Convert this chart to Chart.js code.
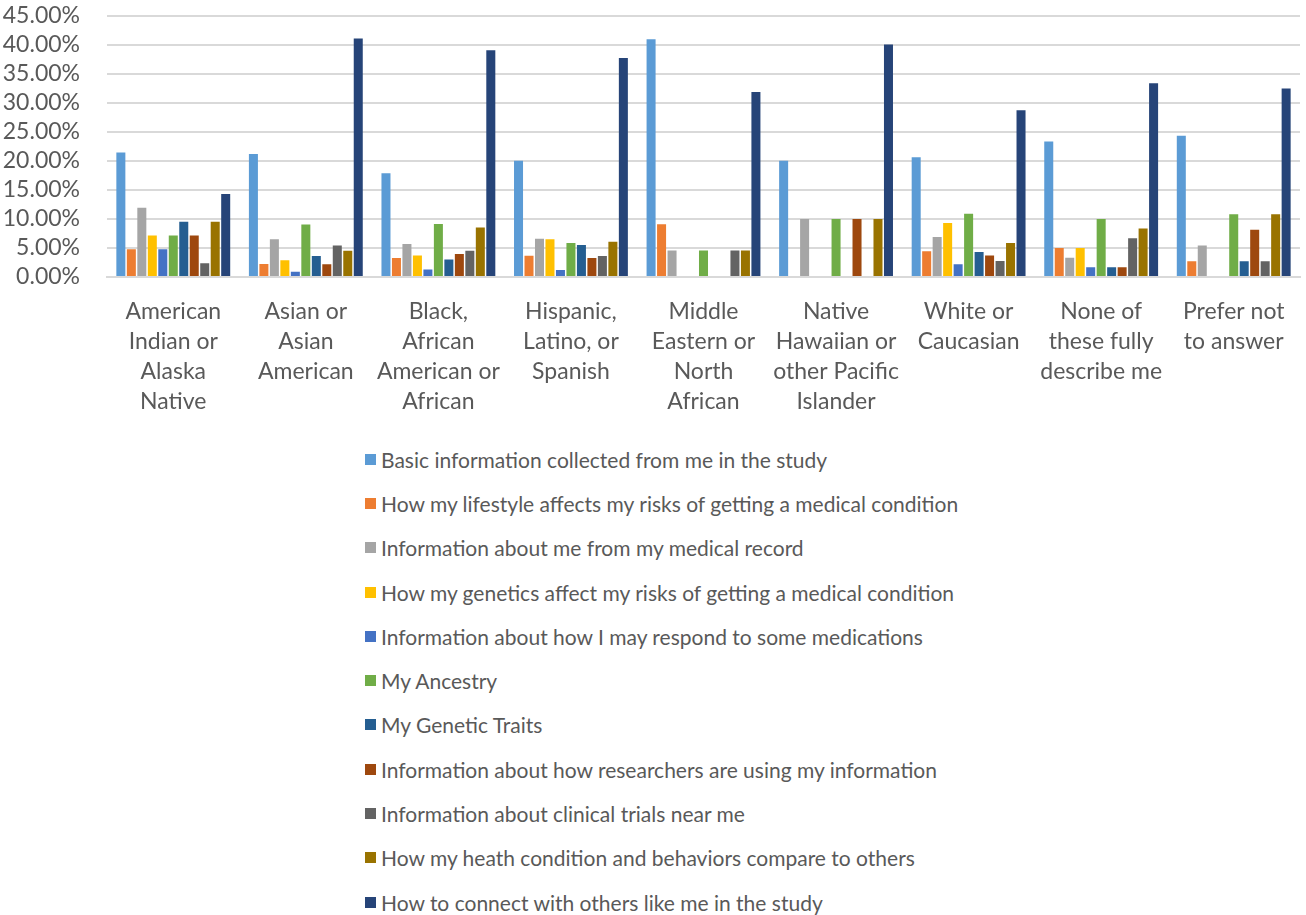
<!DOCTYPE html>
<html>
<head>
<meta charset="utf-8">
<title>Information of interest by race / ethnicity</title>
<script src="https://cdn.jsdelivr.net/npm/chart.js@4/dist/chart.umd.min.js"></script>
<style>
  html, body { margin: 0; padding: 0; background: #fff; overflow: hidden; }
  #wrap { position: relative; width: 1306px; height: 915px; overflow: hidden; }
  #chartBox { position: absolute; left: 0; top: -23px; width: 1306px; height: 453px; }
  #legend {
    position: absolute; left: 365px; top: 437px;
    margin: 0; padding: 0; list-style: none;
    font-family: Lato, "Open Sans", sans-serif; font-size: 21px; color: #595959;
  }
  #legend li { height: 44.3px; display: flex; align-items: center; }
  #legend .box { width: 11px; height: 11px; margin-right: 5px; flex: none; }
</style>
</head>
<body>
<div id="wrap">
  <div id="chartBox"><canvas id="infoBars"></canvas></div>
  <ul id="legend"></ul>
</div>
<script>
const categories = [
    ["American", "Indian or", "Alaska", "Native"],
    ["Asian or", "Asian", "American"],
    ["Black,", "African", "American or", "African"],
    ["Hispanic,", "Latino, or", "Spanish"],
    ["Middle", "Eastern or", "North", "African"],
    ["Native", "Hawaiian or", "other Pacific", "Islander"],
    ["White or", "Caucasian"],
    ["None of", "these fully", "describe me"],
    ["Prefer not", "to answer"],
];

const seriesNames = [
    "Basic information collected from me in the study",
    "How my lifestyle affects my risks of getting a medical condition",
    "Information about me from my medical record",
    "How my genetics affect my risks of getting a medical condition",
    "Information about how I may respond to some medications",
    "My Ancestry",
    "My Genetic Traits",
    "Information about how researchers are using my information",
    "Information about clinical trials near me",
    "How my heath condition and behaviors compare to others",
    "How to connect with others like me in the study",
];

// percent of respondents in each group
const basicInfo      = [21.43, 21.15, 17.86, 20.00, 40.91, 20.00, 20.59, 23.33, 24.32];
const lifestyleRisk  = [4.76, 2.25, 3.26, 3.64, 9.09, 0, 4.41, 5.00, 2.70];
const medicalRecord  = [11.90, 6.50, 5.67, 6.60, 4.55, 10.00, 6.90, 3.33, 5.41];
const geneticsRisk   = [7.14, 2.90, 3.72, 6.50, 0, 0, 9.30, 5.00, 0];
const medications    = [4.76, 0.90, 1.30, 1.20, 0, 0, 2.20, 1.67, 0];
const ancestry       = [7.14, 9.05, 9.10, 5.84, 4.55, 10.00, 10.90, 10.00, 10.81];
const geneticTraits  = [9.52, 3.60, 3.00, 5.50, 0, 0, 4.30, 1.67, 2.70];
const researchUse    = [7.14, 2.20, 3.95, 3.26, 0, 10.00, 3.70, 1.67, 8.11];
const clinicalTrials = [2.38, 5.40, 4.50, 3.60, 4.55, 0, 2.75, 6.67, 2.70];
const compareOthers  = [9.52, 4.50, 8.50, 6.07, 4.55, 10.00, 5.84, 8.33, 10.81];
const connectOthers  = [14.29, 41.05, 39.00, 37.70, 31.82, 40.00, 28.70, 33.33, 32.43];

const seriesValues = [basicInfo, lifestyleRisk, medicalRecord, geneticsRisk, medications,
    ancestry, geneticTraits, researchUse, clinicalTrials, compareOthers, connectOthers];

const seriesColors = ["#5B9BD5", "#ED7D31", "#A5A5A5", "#FFC000", "#4472C4", "#70AD47",
    "#255E91", "#9E480E", "#636363", "#997300", "#264478"];

const TEXT = "#595959";
const GRID = "#d9d9d9";

const chart = new Chart(document.getElementById("infoBars"), {
    type: "bar",
    data: {
        labels: categories,
        datasets: seriesNames.map((name, i) => ({
            label: name,
            data: seriesValues[i],
            backgroundColor: seriesColors[i],
            categoryPercentage: 0.87,
            barPercentage: 0.86,
        })),
    },
    options: {
        responsive: true,
        maintainAspectRatio: false,
        animation: false,
        layout: { padding: { top: 0, right: 6, left: 0, bottom: 0 } },
        scales: {
            x: {
                grid: { display: false },
                border: { color: GRID, width: 2 },
                ticks: {
                    color: TEXT,
                    padding: 12,
                    maxRotation: 0,
                    autoSkip: false,
                    font: { family: "Lato", size: 23, lineHeight: 1.3 },
                },
                afterFit: (scale) => { scale.height = 153; },
            },
            y: {
                min: 0,
                max: 45,
                border: { display: false },
                grid: { color: GRID, lineWidth: 2, drawTicks: false },
                ticks: {
                    stepSize: 5,
                    autoSkip: false,
                    color: TEXT,
                    padding: 27,
                    font: { family: "Lato", size: 23, lineHeight: 1.0 },
                    callback: (v) => v.toFixed(2) + "%",
                },
                afterFit: (scale) => { scale.width = 107; },
            },
        },
        plugins: {
            legend: { display: false },
            tooltip: { enabled: false },
        },
    },
});

// legend list under the chart, one series per row
const legendEl = document.getElementById("legend");
chart.data.datasets.forEach((ds) => {
    const li = document.createElement("li");
    const box = document.createElement("span");
    box.className = "box";
    box.style.background = ds.backgroundColor;
    li.appendChild(box);
    li.appendChild(document.createTextNode(ds.label));
    legendEl.appendChild(li);
});
</script>
</body>
</html>
